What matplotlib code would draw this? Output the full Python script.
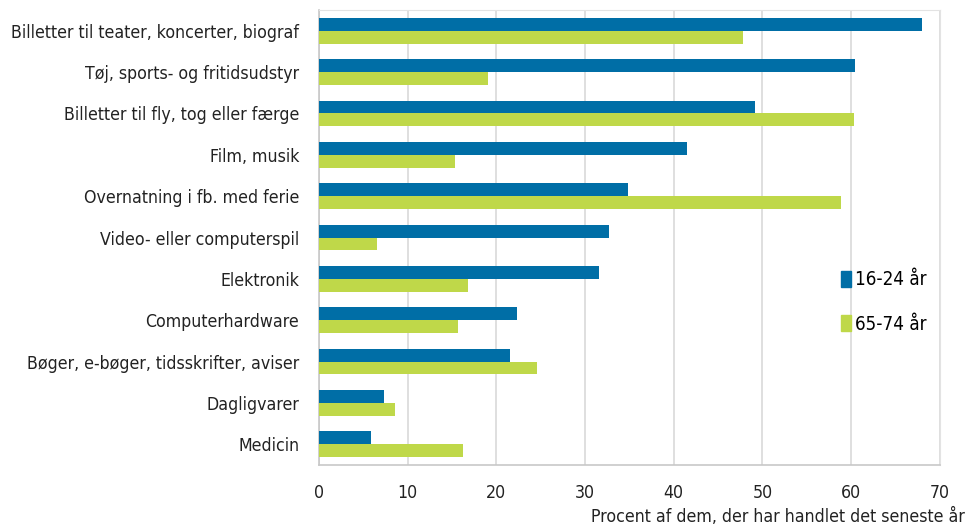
import matplotlib
matplotlib.use("Agg")
import matplotlib.pyplot as plt
import numpy as np
from matplotlib.patches import Patch

categories = [
    "Billetter til teater, koncerter, biograf",
    "Tøj, sports- og fritidsudstyr",
    "Billetter til fly, tog eller færge",
    "Film, musik",
    "Overnatning i fb. med ferie",
    "Video- eller computerspil",
    "Elektronik",
    "Computerhardware",
    "Bøger, e-bøger, tidsskrifter, aviser",
    "Dagligvarer",
    "Medicin",
]
young = [68.0, 60.4, 49.2, 41.5, 34.9, 32.7, 31.6, 22.3, 21.6, 7.3, 5.9]
old = [47.8, 19.1, 60.3, 15.3, 58.8, 6.6, 16.8, 15.7, 24.6, 8.6, 16.2]
series_names = ["16-24 år", "65-74 år"]
xticks = [0, 10, 20, 30, 40, 50, 60, 70]
xlabel = "Procent af dem, der har handlet det seneste år"

blue = "#006ea6"
green = "#bfd849"
plt.rcParams['font.family'] = ["DejaVu Sans"]
plt.rcParams['font.stretch'] = "condensed"

fig = plt.figure(figsize=(9.66, 5.32), dpi=100)
ax = fig.add_axes([0.330, 0.126, 0.643, 0.855])

y = np.arange(len(categories))
h = 0.31
ax.barh(y - h/2, young, height=h, color=blue, zorder=3)
ax.barh(y + h/2, old, height=h, color=green, zorder=3)

ax.set_ylim(len(categories) - 0.5, -0.5)
ax.set_xlim(0, 70)
ax.set_xticks(xticks)
ax.set_xticklabels([str(t) for t in xticks], fontsize=12.7, color="#222222")
ax.set_yticks(y)
ax.set_yticklabels(categories, fontsize=12.7, color="#222222")
ax.tick_params(axis='both', length=0)
ax.tick_params(axis='x', pad=14)
ax.tick_params(axis='y', pad=14)
ax.grid(axis='x', color="#d9d9d9", linewidth=1.2, zorder=0)
for s in ["top", "right"]:
    ax.spines[s].set_color("#e3e3e3")
for s in ["left", "bottom"]:
    ax.spines[s].set_color("#c8c8c8")
    ax.spines[s].set_linewidth(1.2)

fig.text(0.999, 0.012, xlabel, ha="right", va="bottom", fontsize=12.7, color="#222222")

handles = [Patch(color=blue), Patch(color=green)]
leg = ax.legend(handles, series_names, loc="center left", bbox_to_anchor=(0.813, 0.358),
                frameon=False, fontsize=13.5, handlelength=0.55, handleheight=0.95,
                handletextpad=0.2, labelspacing=1.35)

fig.savefig("out.png", dpi=100)
